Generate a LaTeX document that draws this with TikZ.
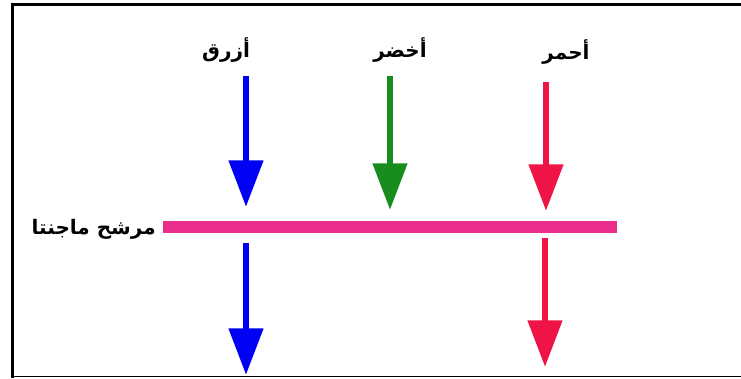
\documentclass[tikz,border=0pt]{standalone}
\usepackage{fontspec}
\newfontfamily\arabicfont[Script=Arabic]{DejaVu Sans}
\TeXXeTstate=1
\usetikzlibrary{arrows.meta}
\definecolor{rayblue}{RGB}{0,0,245}
\definecolor{raygreen}{RGB}{25,140,30}
\definecolor{rayred}{RGB}{240,20,70}
\definecolor{filtermagenta}{RGB}{235,45,140}

\tikzset{
  ray/.style={line width=5pt,-{Triangle[width=25pt,length=35pt]}},
  colourlabel/.style={font=\arabicfont\bfseries\fontsize{15}{18}\selectfont,inner sep=0pt},
}

\begin{document}
\begin{tikzpicture}[x=0.75pt,y=-0.75pt]
        \useasboundingbox (0,0) rectangle (741,378);
        % border (left, top, bottom)
        \draw[line width=2.2pt] (741,4.5) -- (12.5,4.5) -- (12.5,378);
        \draw[line width=1.2pt] (12.5,376.5) -- (741,376.5);
        % colour labels
        \node[colourlabel] (lblBlue)  at (226,50) {\beginR أزرق\endR};
        \node[colourlabel] (lblGreen) at (400,50) {\beginR أخضر\endR};
        \node[colourlabel] (lblRed)   at (566,52) {\beginR أحمر\endR};
        % ray end points
        \coordinate (blueTop)  at (246,76);  \coordinate (blueIn)  at (246,207);
        \coordinate (greenTop) at (390,76);  \coordinate (greenIn) at (390,210);
        \coordinate (redTop)   at (546,82);  \coordinate (redIn)   at (546,211);
        \coordinate (blueOut)  at (246,243); \coordinate (blueEnd) at (246,375);
        \coordinate (redOut)   at (545,238); \coordinate (redEnd)  at (545,367);
        % magenta filter
        \coordinate (filterL) at (163,227);
        \coordinate (filterR) at (617,227);
        \draw[filtermagenta,line width=9pt] (filterL) -- (filterR);
        \node[colourlabel,anchor=east] (lblFilter) at (156,229) {\beginR مرشح ماجنتا\endR};
        % incoming rays
        \draw[ray,rayblue]  (blueTop)  -- (blueIn);
        \draw[ray,raygreen] (greenTop) -- (greenIn);
        \draw[ray,rayred]   (redTop)   -- (redIn);
        % rays passing the filter
        \draw[ray,rayblue]  (blueOut) -- (blueEnd);
        \draw[ray,rayred]   (redOut)  -- (redEnd);
\end{tikzpicture}
\end{document}
